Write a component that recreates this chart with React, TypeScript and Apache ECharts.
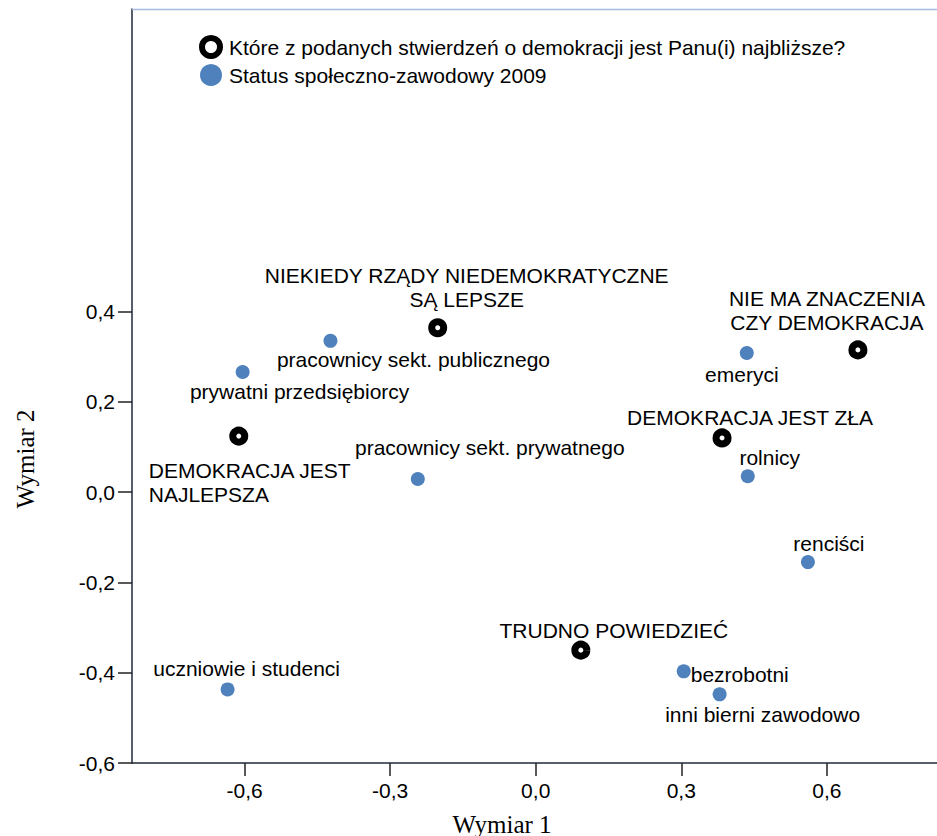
import React, { useEffect, useRef } from "react";
import * as echarts from "echarts";

const legendNames = [
  "Które z podanych stwierdzeń o demokracji jest Panu(i) najbliższe?",
  "Status społeczno-zawodowy 2009",
];

// Series 1: attitudes toward democracy
const demoLabels = [
  "NIEKIEDY RZĄDY NIEDEMOKRATYCZNE\nSĄ LEPSZE",
  "NIE MA ZNACZENIA\nCZY DEMOKRACJA",
  "DEMOKRACJA JEST ZŁA",
  "DEMOKRACJA JEST\nNAJLEPSZA",
  "TRUDNO POWIEDZIEĆ",
];
const demoX = [-0.202, 0.664, 0.384, -0.612, 0.093];
const demoY = [0.364, 0.315, 0.12, 0.124, -0.35];

// Series 2: socio-professional status
const statusLabels = [
  "pracownicy sekt. publicznego",
  "prywatni przedsiębiorcy",
  "pracownicy sekt. prywatnego",
  "emeryci",
  "rolnicy",
  "renciści",
  "bezrobotni",
  "inni bierni zawodowo",
  "uczniowie i studenci",
];
const statusX = [-0.423, -0.604, -0.243, 0.435, 0.437, 0.561, 0.305, 0.379, -0.635];
const statusY = [0.335, 0.266, 0.029, 0.308, 0.035, -0.155, -0.397, -0.448, -0.437];

const xTicks = [-0.6, -0.3, 0, 0.3, 0.6];
const yTicks = [-0.6, -0.4, -0.2, 0, 0.2, 0.4];

// label placement (offset from point centre, alignment)
const demoLabelPos: [number, number, string][] = [
  [29, -40, "center"],
  [-31, -39, "center"],
  [28, -20, "center"],
  [-90, 46, "left"],
  [33, -20, "center"],
];
const statusLabelPos: [number, number, string][] = [
  [83, 19, "center"],
  [57, 19, "center"],
  [72, -32, "center"],
  [-5, 21, "center"],
  [22, -19, "center"],
  [21, -19, "center"],
  [7, 3, "left"],
  [43, 20, "center"],
  [19, -21, "center"],
];

const FONT = "'Liberation Sans', Arial, sans-serif";
const SERIF = "'Liberation Serif', 'Times New Roman', serif";
const fmt = (v: number) => Number(v).toFixed(1).replace(".", ",");

export default function App() {
  const ref = useRef<HTMLDivElement>(null);
  useEffect(() => {
    if (!ref.current) return;
    const chart = echarts.init(ref.current, null, { renderer: "svg" });
    const labelBase = {
      show: true,
      position: "inside",
      formatter: "{b}",
      color: "#000",
      fontSize: 21,
      lineHeight: 24,
      fontFamily: FONT,
    };
    chart.setOption({
      animation: false,
      backgroundColor: "#fff",
      grid: { left: 132, top: 9, right: 0, bottom: 73, containLabel: false, outerBoundsMode: "none" },
      legend: {
        orient: "vertical",
        left: 194,
        top: 30,
        itemWidth: 18,
        itemHeight: 18,
        itemGap: 5,
        icon: "circle",
        selectedMode: false,
        textStyle: { fontSize: 21, fontFamily: FONT, color: "#000", lineHeight: 18, padding: [0, 0, 0, 4] },
        data: [
          { name: legendNames[0], itemStyle: { color: "#fff", borderColor: "#000", borderWidth: 6 } },
          { name: legendNames[1], itemStyle: { color: "#4f81bd", borderColor: "#4f81bd", borderWidth: 4 } },
        ],
      },
      xAxis: {
        type: "value",
        min: -0.832,
        max: 0.827,
        splitLine: { show: false },
        axisLine: { show: true, onZero: false, lineStyle: { color: "#1e2838", width: 1.5 } },
        axisTick: { show: true, length: 13, customValues: xTicks, lineStyle: { color: "#222", width: 1.5 } },
        axisLabel: {
          customValues: xTicks,
          formatter: fmt,
          color: "#000",
          fontSize: 21,
          fontFamily: FONT,
          margin: 17,
        },
      },
      yAxis: {
        type: "value",
        min: -0.6,
        max: 1.07,
        splitLine: { show: false },
        axisLine: { show: true, onZero: false, lineStyle: { color: "#1e2838", width: 1.5 } },
        axisTick: { show: true, length: 14, customValues: yTicks, lineStyle: { color: "#222", width: 1.5 } },
        axisLabel: {
          customValues: yTicks,
          formatter: fmt,
          color: "#000",
          fontSize: 21,
          fontFamily: FONT,
          margin: 17,
        },
      },
      graphic: [
        {
          type: "line",
          shape: { x1: 132, y1: 9.5, x2: 937, y2: 9.5 },
          style: { stroke: "#a4bde0", lineWidth: 1.5 },
          z: 10,
        },
        {
          type: "text",
          x: 502,
          y: 824,
          style: { text: "Wymiar 1", font: `25px ${SERIF}`, fill: "#000", align: "center", verticalAlign: "middle" },
        },
        {
          type: "text",
          x: 25,
          y: 459,
          rotation: Math.PI / 2,
          style: { text: "Wymiar 2", font: `25px ${SERIF}`, fill: "#000", align: "center", verticalAlign: "middle" },
        },
      ],
      series: [
        {
          name: legendNames[1],
          type: "scatter",
          symbol: "circle",
          symbolSize: 14,
          itemStyle: { color: "#4f81bd", opacity: 1 },
          label: labelBase,
          emphasis: { disabled: true },
          data: statusX.map((x, i) => ({
            value: [x, statusY[i]],
            name: statusLabels[i],
            label: { offset: [statusLabelPos[i][0], statusLabelPos[i][1]], align: statusLabelPos[i][2] },
          })),
        },
        {
          name: legendNames[0],
          type: "scatter",
          symbol: "circle",
          symbolSize: 12,
          itemStyle: { color: "#fff", borderColor: "#000", borderWidth: 7, opacity: 1 },
          label: labelBase,
          emphasis: { disabled: true },
          data: demoX.map((x, i) => ({
            value: [x, demoY[i]],
            name: demoLabels[i],
            label: { offset: [demoLabelPos[i][0], demoLabelPos[i][1]], align: demoLabelPos[i][2] },
          })),
        },
      ],
    });
    return () => chart.dispose();
  }, []);
  return (
    <div
      ref={ref}
      style={{ position: "absolute", left: 0, top: 0, width: 937, height: 836, background: "#fff" }}
    />
  );
}
